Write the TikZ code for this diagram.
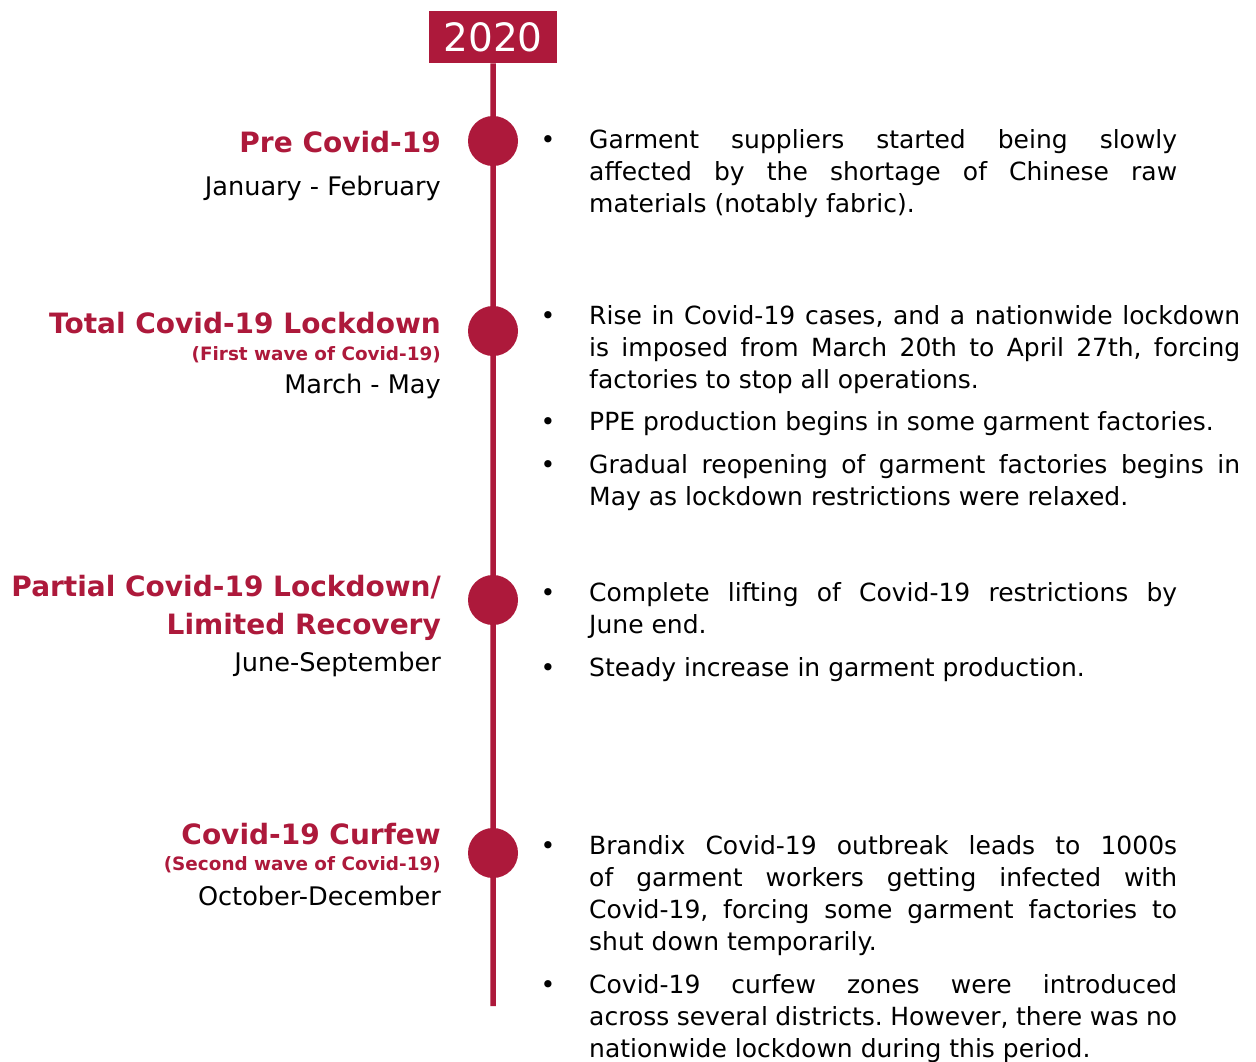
\documentclass[tikz,border=0pt]{standalone}
\usepackage{fontspec}
\setmainfont{DejaVu Sans}
\frenchspacing
\definecolor{crim}{RGB}{173,25,59}
\begin{document}
\begin{tikzpicture}[x=1pt,y=-1pt,
  title/.style={anchor=base east, inner sep=0, text=crim, font=\fontsize{28}{34}\selectfont\bfseries},
  sub/.style={anchor=base east, inner sep=0, text=crim, font=\fontsize{18.4}{22}\selectfont\bfseries},
  period/.style={anchor=base east, inner sep=0, font=\fontsize{25.6}{30}\selectfont},
  body/.style={anchor=base west, inner sep=0, text width=588pt, align=justify, font=\fontsize{25}{32}\selectfont},
  wide/.style={body, text width=651pt},
  bul/.style={anchor=base, inner sep=0, font=\fontsize{25}{32}\selectfont},
  dot/.style={circle, fill=crim, minimum size=50pt, inner sep=0},
]
\useasboundingbox (0,0) rectangle (1256,1061);
% year box and timeline
\node[fill=crim, text=white, minimum width=128pt, minimum height=52pt, inner sep=0,
      font=\fontsize{39}{39}\selectfont, anchor=north west] (yr) at (429,11) {2020};
\coordinate (end) at (493,1006);
\draw[crim, line width=5.5pt] (yr.south) -- (end);
\node[dot] (d1) at (493,141) {};
\node[dot] (d2) at (493,331) {};
\node[dot] (d3) at (493,600) {};
\node[dot] (d4) at (493,853) {};

% left titles
\node[title] (t1) at (441,152) {Pre Covid-19};
\node[period] (p1) at (441,195) {January - February};

\node[title] (t2) at (441,333) {Total Covid-19 Lockdown};
\node[sub] (s2) at (441,360) {(First wave of Covid-19)};
\node[period] (p2) at (441,393) {March - May};

\node[title] (t3a) at (441,596) {Partial Covid-19 Lockdown/};
\node[title] (t3b) at (441,634) {Limited Recovery};
\node[period] (p3) at (441,671) {June-September};

\node[title] (t4) at (441,844) {Covid-19 Curfew};
\node[sub] (s4) at (441,870) {(Second wave of Covid-19)};
\node[period] (p4) at (441,905) {October-December};

% right bullets
\node[bul] (b1) at (548,148) {•};
\node[body] (e1) at (589,148) {Garment suppliers started being slowly\linebreak affected by the shortage of Chinese raw\linebreak materials (notably fabric).};

\node[bul] (b2) at (548,324) {•};
\node[wide] (e2) at (589,324) {Rise in Covid-19 cases, and a nationwide lockdown\linebreak is imposed from March 20th to April 27th, forcing\linebreak factories to stop all operations.};
\node[bul] (b3) at (548,430) {•};
\node[wide] (e3) at (589,430) {PPE production begins in some garment factories.};
\node[bul] (b4) at (548,473) {•};
\node[wide] (e4) at (589,473) {Gradual reopening of garment factories begins in\linebreak May as lockdown restrictions were relaxed.};

\node[bul] (b5) at (548,601) {•};
\node[body] (e5) at (589,601) {Complete lifting of Covid-19 restrictions by\linebreak June end.};
\node[bul] (b6) at (548,676) {•};
\node[body] (e6) at (589,676) {Steady increase in garment production.};

\node[bul] (b7) at (548,854) {•};
\node[body] (e7) at (589,854) {Brandix Covid-19 outbreak leads to 1000s\linebreak of garment workers getting infected with\linebreak Covid-19, forcing some garment factories to\linebreak shut down temporarily.};
\node[bul] (b8) at (548,993) {•};
\node[body] (e8) at (589,993) {Covid-19 curfew zones were introduced\linebreak across several districts. However, there was no\linebreak nationwide lockdown during this period.};
\end{tikzpicture}
\end{document}
